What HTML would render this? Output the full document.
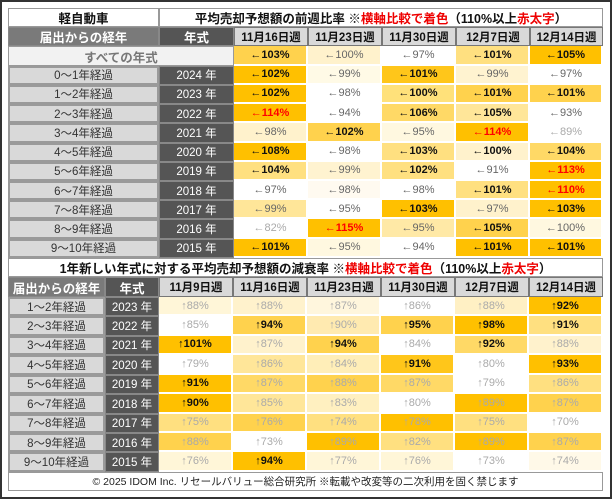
<!DOCTYPE html>
<html><head><meta charset="utf-8"><style>
*{box-sizing:border-box;margin:0;padding:0}
body{width:612px;height:499px;background:#fff;position:relative;overflow:hidden;font-family:"Liberation Sans","Noto Sans CJK JP",sans-serif}
.frame{position:absolute;left:0;top:0;width:612px;height:499px;border:2px solid #333}
.g{position:absolute;left:8px;width:595px;display:grid}
.g div{display:flex;align-items:center;justify-content:center;font-size:11px;white-space:nowrap;border-right:2px solid #fff;border-bottom:2px solid #fff;color:#666}
.g .t{background:#fff;color:#111;font-weight:bold;font-size:12.5px;border:1px solid #999}
.g .lh{background:#7a7a7a;color:#fff;font-weight:bold;font-size:12.5px;border:1px solid #888}
.g .yh{background:#555;color:#fff;font-weight:bold;font-size:12.5px;border:1px solid #888}
.g .wh{background:#d9d9d9;color:#111;font-weight:bold;font-size:11.5px;border:1px solid #777}
.g .lb{background:#d9d9d9;color:#333;font-size:11.5px;border:2px solid #9a9a9a}
.g .yr{background:#555;color:#fff;font-size:11.5px;border:1px solid #888}
.g .all{background:#f2f2f2;color:#777;font-weight:bold;font-size:12.5px;border:1px solid #999}
.b{font-weight:bold;color:#111!important}
.r{font-weight:bold;color:#f00!important}
.l{color:#aaa!important}
.red{color:#e00}
#top{top:8px;grid-template-columns:151px 75px 74px 74px 74px 74px 73px;grid-auto-rows:19.23px}
#bot{top:258px;grid-template-columns:97px 54px 74px 74px 74px 74px 74px 74px;grid-auto-rows:19.45px}
.foot{position:absolute;left:8px;top:472px;width:595px;height:19px;border:1px solid #999;font-size:10.5px;color:#222;display:flex;align-items:center;justify-content:center}
</style></head><body>
<div class="frame"></div>
<div class="g" id="top">
<div class="t">軽自動車</div><div class="t" style="grid-column:span 6">平均売却予想額の前週比率 ※<span class="red">横軸比較で着色</span>（110%以上 <span class="red">赤太字</span>）</div>
<div class="lh">届出からの経年</div><div class="yh">年式</div><div class="wh">11月16日週</div><div class="wh">11月23日週</div><div class="wh">11月30日週</div><div class="wh">12月7日週</div><div class="wh">12月14日週</div>
<div class="all" style="grid-column:span 2">すべての年式</div><div class="b" style="background:#ffd24d">←103%</div><div style="background:#fff2cc">←100%</div><div style="background:#fff">←97%</div><div class="b" style="background:#ffe080">←101%</div><div class="b" style="background:#ffc000">←105%</div>
<div class="lb">0～1年経過</div><div class="yr">2024 年</div><div class="b" style="background:#ffc000">←102%</div><div style="background:#fffae6">←99%</div><div class="b" style="background:#ffc61a">←101%</div><div style="background:#fff3d0">←99%</div><div style="background:#fff">←97%</div>
<div class="lb">1～2年経過</div><div class="yr">2023 年</div><div class="b" style="background:#ffc000">←102%</div><div style="background:#fff">←98%</div><div class="b" style="background:#ffe17a">←100%</div><div class="b" style="background:#ffd24d">←101%</div><div class="b" style="background:#ffd24d">←101%</div>
<div class="lb">2～3年経過</div><div class="yr">2022 年</div><div class="r" style="background:#ffc000">←114%</div><div style="background:#fff">←94%</div><div class="b" style="background:#ffd966">←106%</div><div class="b" style="background:#ffe699">←105%</div><div style="background:#fff">←93%</div>
<div class="lb">3～4年経過</div><div class="yr">2021 年</div><div style="background:#fff2cc">←98%</div><div class="b" style="background:#ffd24d">←102%</div><div style="background:#fff8e0">←95%</div><div class="r" style="background:#ffc000">←114%</div><div class="l" style="background:#fff">←89%</div>
<div class="lb">4～5年経過</div><div class="yr">2020 年</div><div class="b" style="background:#ffc000">←108%</div><div style="background:#fff">←98%</div><div class="b" style="background:#ffe080">←103%</div><div class="b" style="background:#fff2cc">←100%</div><div class="b" style="background:#ffd966">←104%</div>
<div class="lb">5～6年経過</div><div class="yr">2019 年</div><div class="b" style="background:#ffe080">←104%</div><div style="background:#fff3d0">←99%</div><div class="b" style="background:#ffe080">←102%</div><div style="background:#fff">←91%</div><div class="r" style="background:#ffc000">←113%</div>
<div class="lb">6～7年経過</div><div class="yr">2018 年</div><div style="background:#fff">←97%</div><div style="background:#fffaf0">←98%</div><div style="background:#fff">←98%</div><div class="b" style="background:#ffe080">←101%</div><div class="r" style="background:#ffc000">←110%</div>
<div class="lb">7～8年経過</div><div class="yr">2017 年</div><div style="background:#ffe699">←99%</div><div style="background:#fff">←95%</div><div class="b" style="background:#ffc000">←103%</div><div style="background:#fff2cc">←97%</div><div class="b" style="background:#ffc000">←103%</div>
<div class="lb">8～9年経過</div><div class="yr">2016 年</div><div class="l" style="background:#fff">←82%</div><div class="r" style="background:#ffc000">←115%</div><div style="background:#ffe9a6">←95%</div><div class="b" style="background:#ffd24d">←105%</div><div style="background:#fff8e0">←100%</div>
<div class="lb">9～10年経過</div><div class="yr">2015 年</div><div class="b" style="background:#ffc000">←101%</div><div style="background:#fff8e0">←95%</div><div style="background:#fff">←94%</div><div class="b" style="background:#ffc000">←101%</div><div class="b" style="background:#ffc000">←101%</div>
</div>
<div class="g" id="bot">
<div class="t" style="grid-column:span 8">1年新しい年式に対する平均売却予想額の減衰率 ※<span class="red">横軸比較で着色</span>（110%以上 <span class="red">赤太字</span>）</div>
<div class="lh">届出からの経年</div><div class="yh">年式</div><div class="wh">11月9日週</div><div class="wh">11月16日週</div><div class="wh">11月23日週</div><div class="wh">11月30日週</div><div class="wh">12月7日週</div><div class="wh">12月14日週</div>
<div class="lb">1～2年経過</div><div class="yr">2023 年</div><div class="l" style="background:#fff6d8">↑88%</div><div class="l" style="background:#fff2cc">↑88%</div><div class="l" style="background:#fff6dd">↑87%</div><div class="l" style="background:#fff">↑86%</div><div class="l" style="background:#fff0c4">↑88%</div><div class="b" style="background:#ffc000">↑92%</div>
<div class="lb">2～3年経過</div><div class="yr">2022 年</div><div class="l" style="background:#fff">↑85%</div><div class="b" style="background:#ffd24d">↑94%</div><div class="l" style="background:#ffeab0">↑90%</div><div class="b" style="background:#ffd24d">↑95%</div><div class="b" style="background:#ffc000">↑98%</div><div class="b" style="background:#ffe080">↑91%</div>
<div class="lb">3～4年経過</div><div class="yr">2021 年</div><div class="b" style="background:#ffc000">↑101%</div><div class="l" style="background:#fff2cc">↑87%</div><div class="b" style="background:#ffd24d">↑94%</div><div class="l" style="background:#fff">↑84%</div><div class="b" style="background:#ffd966">↑92%</div><div class="l" style="background:#fff2cc">↑88%</div>
<div class="lb">4～5年経過</div><div class="yr">2020 年</div><div class="l" style="background:#fff">↑79%</div><div class="l" style="background:#ffe699">↑86%</div><div class="l" style="background:#ffeeb8">↑84%</div><div class="b" style="background:#ffc61a">↑91%</div><div class="l" style="background:#fff">↑80%</div><div class="b" style="background:#ffc000">↑93%</div>
<div class="lb">5～6年経過</div><div class="yr">2019 年</div><div class="b" style="background:#ffc000">↑91%</div><div class="l" style="background:#ffd966">↑87%</div><div class="l" style="background:#ffd24d">↑88%</div><div class="l" style="background:#ffd966">↑87%</div><div class="l" style="background:#fff">↑79%</div><div class="l" style="background:#ffe080">↑86%</div>
<div class="lb">6～7年経過</div><div class="yr">2018 年</div><div class="b" style="background:#ffc000">↑90%</div><div class="l" style="background:#ffe699">↑85%</div><div class="l" style="background:#fff0c0">↑83%</div><div class="l" style="background:#fff">↑80%</div><div class="l" style="background:#ffc000">↑89%</div><div class="l" style="background:#ffd24d">↑87%</div>
<div class="lb">7～8年経過</div><div class="yr">2017 年</div><div class="l" style="background:#ffe080">↑75%</div><div class="l" style="background:#ffd24d">↑76%</div><div class="l" style="background:#ffe080">↑74%</div><div class="l" style="background:#ffc000">↑78%</div><div class="l" style="background:#ffe080">↑75%</div><div class="l" style="background:#fff">↑70%</div>
<div class="lb">8～9年経過</div><div class="yr">2016 年</div><div class="l" style="background:#ffd24d">↑88%</div><div class="l" style="background:#fff">↑73%</div><div class="l" style="background:#ffc000">↑89%</div><div class="l" style="background:#ffe080">↑82%</div><div class="l" style="background:#ffc000">↑89%</div><div class="l" style="background:#ffd24d">↑87%</div>
<div class="lb">9～10年経過</div><div class="yr">2015 年</div><div class="l" style="background:#fff6d8">↑76%</div><div class="b" style="background:#ffc000">↑94%</div><div class="l" style="background:#fff6d8">↑77%</div><div class="l" style="background:#fff6d8">↑76%</div><div class="l" style="background:#fff">↑73%</div><div class="l" style="background:#fff9e8">↑74%</div>
</div>
<div class="foot">© 2025 IDOM Inc. リセールバリュー総合研究所 ※転載や改変等の二次利用を固く禁じます</div>
</body></html>
